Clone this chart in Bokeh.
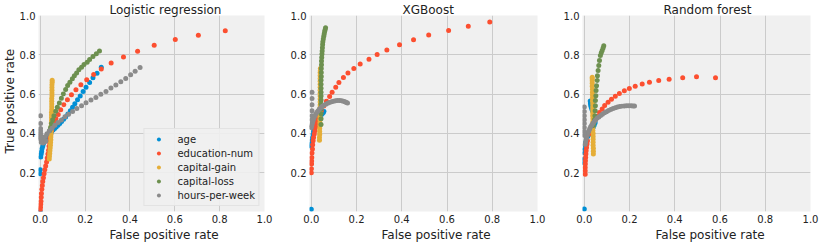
from bokeh.plotting import figure
from bokeh.layouts import row
from bokeh.models import Range1d, FixedTicker, PrintfTickFormatter, Title
from bokeh.embed import file_html
from bokeh.resources import INLINE

# ---------------- data ----------------
series_names = ["age", "education-num", "capital-gain", "capital-loss", "hours-per-week"]
series_colors = ["#008fd5", "#fc4f30", "#e5ae38", "#6d904f", "#8b8b8b"]
panel_titles = ["Logistic regression", "XGBoost", "Random forest"]
x_label = "False positive rate"
y_label = "True positive rate"
x_ticks = [0.0, 0.2, 0.4, 0.6, 0.8, 1.0]
y_ticks = [0.2, 0.4, 0.6, 0.8, 1.0]

# Logistic regression
lr_age_fpr = [0.272, 0.253, 0.235, 0.220, 0.204, 0.191, 0.178, 0.166, 0.154, 0.144, 0.134, 0.123, 0.113,
              0.104, 0.095, 0.087, 0.079, 0.071, 0.064, 0.057, 0.050, 0.044, 0.038, 0.032, 0.027, 0.022,
              0.018, 0.014, 0.011, 0.008, 0.006, 0.004, 0.002, 0.0, 0.0, 0.0]
lr_age_tpr = [0.737, 0.706, 0.683, 0.659, 0.635, 0.613, 0.591, 0.571, 0.551, 0.533, 0.516, 0.499, 0.484,
              0.472, 0.461, 0.451, 0.442, 0.433, 0.425, 0.417, 0.409, 0.401, 0.393, 0.385, 0.377, 0.368,
              0.358, 0.347, 0.335, 0.322, 0.308, 0.295, 0.280, 0.215, 0.195, 0.003]
lr_edu_fpr = [0.825, 0.705, 0.602, 0.508, 0.434, 0.371, 0.316, 0.272, 0.238, 0.207, 0.181, 0.159, 0.139,
              0.121, 0.105, 0.091, 0.080, 0.070, 0.062, 0.055, 0.050, 0.046, 0.043, 0.041, 0.039, 0.037,
              0.034, 0.031, 0.028, 0.024, 0.020, 0.017, 0.014, 0.011, 0.009, 0.007, 0.005, 0.004, 0.003,
              0.002, 0.001, 0.0]
lr_edu_tpr = [0.922, 0.900, 0.878, 0.849, 0.818, 0.789, 0.759, 0.728, 0.700, 0.673, 0.648, 0.622, 0.597,
              0.572, 0.546, 0.520, 0.496, 0.475, 0.455, 0.435, 0.415, 0.395, 0.375, 0.355, 0.335, 0.315,
              0.295, 0.275, 0.255, 0.235, 0.215, 0.195, 0.175, 0.155, 0.135, 0.115, 0.095, 0.075, 0.055,
              0.040, 0.025, 0.012]
lr_gain_fpr = [0.040, 0.041, 0.042, 0.043, 0.044, 0.045, 0.046, 0.047, 0.047, 0.048, 0.048, 0.049, 0.049,
               0.049, 0.050, 0.050, 0.050, 0.050, 0.051, 0.051, 0.051, 0.051, 0.051, 0.052, 0.052, 0.052,
               0.052, 0.052, 0.053, 0.053]
lr_gain_tpr = [0.270, 0.284, 0.298, 0.312, 0.326, 0.340, 0.354, 0.368, 0.382, 0.396, 0.410, 0.424, 0.438,
               0.452, 0.466, 0.480, 0.494, 0.508, 0.522, 0.536, 0.550, 0.564, 0.578, 0.592, 0.606, 0.620,
               0.634, 0.648, 0.660, 0.670]
lr_loss_fpr = [0.264, 0.250, 0.235, 0.220, 0.209, 0.195, 0.184, 0.172, 0.162, 0.152, 0.143, 0.132, 0.122,
               0.113, 0.103, 0.094, 0.085, 0.076, 0.069, 0.061, 0.055, 0.050, 0.046, 0.042]
lr_loss_tpr = [0.819, 0.805, 0.792, 0.776, 0.762, 0.751, 0.737, 0.724, 0.708, 0.694, 0.678, 0.661, 0.644,
               0.624, 0.601, 0.579, 0.555, 0.533, 0.513, 0.490, 0.470, 0.450, 0.430, 0.415]
lr_hours_fpr = [0.445, 0.423, 0.403, 0.381, 0.359, 0.337, 0.315, 0.293, 0.270, 0.248, 0.226, 0.204, 0.184,
                0.163, 0.144, 0.126, 0.110, 0.094, 0.079, 0.065, 0.052, 0.040, 0.030, 0.022, 0.015, 0.009,
                0.004, 0.012, 0.018, 0.025, 0.001, 0.001, 0.001, 0.001, 0.001, 0.001, 0.001, 0.001]
lr_hours_tpr = [0.736, 0.716, 0.699, 0.680, 0.663, 0.646, 0.631, 0.614, 0.599, 0.583, 0.570, 0.556, 0.541,
                0.527, 0.512, 0.498, 0.485, 0.469, 0.456, 0.442, 0.427, 0.413, 0.398, 0.385, 0.372, 0.362,
                0.355, 0.352, 0.356, 0.362, 0.370, 0.380, 0.390, 0.400, 0.412, 0.425, 0.450, 0.490]

# XGBoost
xgb_age_fpr = [0.0, 0.0, 0.002, 0.004, 0.006, 0.008, 0.010, 0.013, 0.016, 0.019, 0.022, 0.025, 0.029,
               0.033, 0.037, 0.041, 0.045, 0.049, 0.053, 0.056]
xgb_age_tpr = [0.015, 0.335, 0.350, 0.365, 0.380, 0.395, 0.410, 0.422, 0.433, 0.443, 0.452, 0.460, 0.468,
               0.476, 0.483, 0.490, 0.496, 0.502, 0.507, 0.512]
xgb_edu_fpr = [0.789, 0.694, 0.607, 0.519, 0.452, 0.390, 0.334, 0.291, 0.255, 0.216, 0.188, 0.162, 0.142,
               0.122, 0.108, 0.092, 0.081, 0.067, 0.055, 0.044, 0.035, 0.030, 0.026, 0.022, 0.019, 0.016,
               0.013, 0.010, 0.008, 0.006, 0.005, 0.003, 0.002, 0.0015, 0.001, 0.0005, 0.0]
xgb_edu_tpr = [0.967, 0.945, 0.924, 0.901, 0.877, 0.851, 0.824, 0.802, 0.777, 0.753, 0.731, 0.707, 0.685,
               0.659, 0.635, 0.610, 0.588, 0.564, 0.540, 0.516, 0.490, 0.478, 0.465, 0.448, 0.431, 0.414,
               0.397, 0.380, 0.363, 0.342, 0.321, 0.300, 0.278, 0.260, 0.244, 0.220, 0.200]
xgb_gain_fpr = [0.036, 0.036, 0.037, 0.037, 0.037, 0.038, 0.038, 0.038, 0.038, 0.038, 0.038, 0.038, 0.039,
                0.039, 0.039, 0.039, 0.039, 0.039, 0.039, 0.039, 0.039, 0.039, 0.039, 0.039, 0.040, 0.040]
xgb_gain_tpr = [0.365, 0.380, 0.395, 0.410, 0.425, 0.440, 0.455, 0.470, 0.485, 0.500, 0.515, 0.530, 0.545,
                0.560, 0.575, 0.590, 0.605, 0.620, 0.635, 0.650, 0.665, 0.680, 0.695, 0.710, 0.720, 0.730]
xgb_loss_fpr = [0.063, 0.061, 0.059, 0.057, 0.055, 0.053, 0.051, 0.050, 0.049, 0.048, 0.047, 0.046, 0.045,
                0.045, 0.044, 0.044, 0.044, 0.043, 0.043, 0.043, 0.043, 0.043, 0.043, 0.043, 0.043, 0.043,
                0.043, 0.043]
xgb_loss_tpr = [0.938, 0.928, 0.918, 0.906, 0.894, 0.880, 0.866, 0.852, 0.836, 0.820, 0.804, 0.786, 0.768,
                0.750, 0.730, 0.710, 0.690, 0.670, 0.650, 0.630, 0.610, 0.590, 0.570, 0.550, 0.525, 0.500,
                0.475, 0.445]
xgb_hours_fpr = [0.0, 0.002, 0.004, 0.006, 0.009, 0.012, 0.016, 0.020, 0.025, 0.030, 0.036, 0.042, 0.049,
                 0.056, 0.064, 0.072, 0.080, 0.089, 0.098, 0.107, 0.116, 0.125, 0.134, 0.142, 0.149, 0.155,
                 0.160, 0.003, 0.003, 0.003, 0.003, 0.003, 0.003]
xgb_hours_tpr = [0.430, 0.440, 0.450, 0.460, 0.470, 0.480, 0.490, 0.499, 0.508, 0.516, 0.524, 0.531, 0.538,
                 0.544, 0.549, 0.554, 0.558, 0.561, 0.564, 0.566, 0.567, 0.567, 0.566, 0.564, 0.561, 0.558,
                 0.555, 0.610, 0.578, 0.546, 0.516, 0.490, 0.470]

# Random forest
rf_age_fpr = [0.0, 0.0, 0.0, 0.001, 0.002, 0.004, 0.006, 0.009, 0.012, 0.016, 0.020, 0.024, 0.028, 0.032,
              0.036, 0.040, 0.044, 0.048, 0.026, 0.027, 0.028, 0.030, 0.033, 0.036]
rf_age_tpr = [0.016, 0.250, 0.270, 0.300, 0.320, 0.340, 0.355, 0.368, 0.378, 0.387, 0.395, 0.402, 0.409,
              0.416, 0.424, 0.433, 0.443, 0.455, 0.565, 0.555, 0.545, 0.535, 0.525, 0.515]
rf_edu_fpr = [0.580, 0.496, 0.435, 0.375, 0.329, 0.288, 0.256, 0.225, 0.199, 0.177, 0.155, 0.137, 0.120,
              0.105, 0.090, 0.079, 0.067, 0.057, 0.046, 0.037, 0.027, 0.020, 0.014, 0.012, 0.010, 0.008,
              0.007, 0.006, 0.005, 0.0045, 0.004, 0.004, 0.004]
rf_edu_tpr = [0.683, 0.688, 0.683, 0.676, 0.669, 0.661, 0.651, 0.640, 0.629, 0.617, 0.603, 0.589, 0.574,
              0.559, 0.542, 0.525, 0.506, 0.487, 0.469, 0.448, 0.423, 0.397, 0.363, 0.346, 0.329, 0.312,
              0.295, 0.278, 0.261, 0.244, 0.227, 0.210, 0.193]
rf_gain_fpr = [0.040, 0.040, 0.040, 0.039, 0.039, 0.039, 0.039, 0.039, 0.038, 0.038, 0.038, 0.038, 0.038,
               0.037, 0.037, 0.037, 0.037, 0.037, 0.036, 0.036, 0.036, 0.036, 0.036, 0.035, 0.035, 0.035,
               0.035, 0.035]
rf_gain_tpr = [0.295, 0.310, 0.325, 0.340, 0.355, 0.370, 0.385, 0.400, 0.415, 0.430, 0.445, 0.460, 0.475,
               0.490, 0.505, 0.520, 0.535, 0.550, 0.565, 0.580, 0.595, 0.610, 0.625, 0.640, 0.655, 0.668,
               0.678, 0.686]
rf_loss_fpr = [0.086, 0.083, 0.079, 0.075, 0.071, 0.067, 0.064, 0.061, 0.058, 0.057, 0.054, 0.052, 0.051,
               0.049, 0.049, 0.048, 0.047, 0.045, 0.042, 0.039]
rf_loss_tpr = [0.846, 0.835, 0.822, 0.810, 0.797, 0.771, 0.746, 0.720, 0.694, 0.669, 0.643, 0.618, 0.592,
               0.567, 0.541, 0.516, 0.490, 0.470, 0.455, 0.440]
rf_hours_fpr = [0.004, 0.006, 0.008, 0.010, 0.013, 0.016, 0.020, 0.024, 0.028, 0.033, 0.038, 0.044, 0.050,
                0.057, 0.064, 0.072, 0.080, 0.089, 0.098, 0.107, 0.117, 0.127, 0.137, 0.147, 0.157, 0.167,
                0.177, 0.187, 0.197, 0.207, 0.215, 0.222, 0.0, 0.0, 0.0, 0.0, 0.0, 0.0, 0.0, 0.0]
rf_hours_tpr = [0.345, 0.358, 0.370, 0.381, 0.392, 0.403, 0.414, 0.424, 0.434, 0.443, 0.452, 0.461, 0.469,
                0.477, 0.484, 0.491, 0.498, 0.505, 0.511, 0.517, 0.522, 0.527, 0.531, 0.534, 0.537, 0.539,
                0.540, 0.541, 0.541, 0.541, 0.540, 0.540, 0.535, 0.512, 0.490, 0.470, 0.450, 0.430, 0.410,
                0.390]

panels = [
    [(lr_age_fpr, lr_age_tpr), (lr_edu_fpr, lr_edu_tpr), (lr_gain_fpr, lr_gain_tpr),
     (lr_loss_fpr, lr_loss_tpr), (lr_hours_fpr, lr_hours_tpr)],
    [(xgb_age_fpr, xgb_age_tpr), (xgb_edu_fpr, xgb_edu_tpr), (xgb_gain_fpr, xgb_gain_tpr),
     (xgb_loss_fpr, xgb_loss_tpr), (xgb_hours_fpr, xgb_hours_tpr)],
    [(rf_age_fpr, rf_age_tpr), (rf_edu_fpr, rf_edu_tpr), (rf_gain_fpr, rf_gain_tpr),
     (rf_loss_fpr, rf_loss_tpr), (rf_hours_fpr, rf_hours_tpr)],
]

# ---------------- style ----------------
FONT = "DejaVu Sans"
TEXT = "#222222"
BG = "#f0f0f0"
GRID = "#cbcbcb"
HEIGHT = 246
# (width, min_border_left, min_border_right, title offset, xlabel offset)
geometry = [(285, 36, 21, 71, 71), (273, 24, 21, 93, 72), (264, 24, 12, 81, 73)]


def style_title(t, size="12px", standoff=0):
    t.text_font = FONT
    t.text_font_size = size
    t.text_font_style = "normal"
    t.text_color = TEXT
    t.standoff = standoff


def make_panel(i):
    w, bl, br, toff, xoff = geometry[i]
    p = figure(width=w, height=HEIGHT, output_backend="svg", toolbar_location=None,
               x_range=Range1d(-0.008, 1.0), y_range=Range1d(0.003, 1.0),
               min_border_left=bl, min_border_right=br, min_border_top=15, min_border_bottom=35,
               title=panel_titles[i])
    p.background_fill_color = BG
    p.border_fill_color = "white"
    p.outline_line_color = None
    style_title(p.title, standoff=-2)
    p.title.align = "left"
    p.title.offset = toff

    p.xaxis.ticker = FixedTicker(ticks=x_ticks)
    p.yaxis.ticker = FixedTicker(ticks=y_ticks)
    for ax in (p.xaxis, p.yaxis):
        ax.formatter = PrintfTickFormatter(format="%.1f")
        ax.axis_line_color = None
        ax.major_tick_line_color = None
        ax.minor_tick_line_color = None
        ax.major_tick_out = 0
        ax.major_tick_in = 0
        ax.minor_tick_out = 0
        ax.minor_tick_in = 0
        ax.major_label_text_font = FONT
        ax.major_label_text_font_size = "10px"
        ax.major_label_text_color = TEXT
        ax.major_label_standoff = 3

    xt = Title(text=x_label, align="left", offset=xoff)
    style_title(xt)
    p.add_layout(xt, "below")
    if i == 0:
        yt = Title(text=y_label, align="left", offset=58)
        style_title(yt)
        p.add_layout(yt, "left")

    p.grid.grid_line_color = GRID
    p.grid.grid_line_width = 1
    p.xgrid.ticker = FixedTicker(ticks=x_ticks)
    p.ygrid.ticker = FixedTicker(ticks=y_ticks)

    for (fx, ty), name, col in zip(panels[i], series_names, series_colors):
        kw = dict(legend_label=name) if i == 0 else {}
        p.scatter(fx, ty, size=5, color=col, line_color=None, **kw)

    if i == 0:
        lg = p.legend[0]
        lg.location = "bottom_right"
        lg.margin = 5
        lg.padding = 3
        lg.spacing = 0
        lg.glyph_width = 22
        lg.glyph_height = 10
        lg.label_height = 14
        lg.label_standoff = 8
        lg.label_text_font = FONT
        lg.label_text_font_size = "10px"
        lg.label_text_color = TEXT
        lg.background_fill_color = BG
        lg.background_fill_alpha = 0.9
        lg.border_line_color = "#d6d6d6"
        lg.border_line_width = 1
    return p


figs = [make_panel(i) for i in range(3)]
layout = row(*figs)

open("out.html", "w").write(file_html(layout, INLINE))
